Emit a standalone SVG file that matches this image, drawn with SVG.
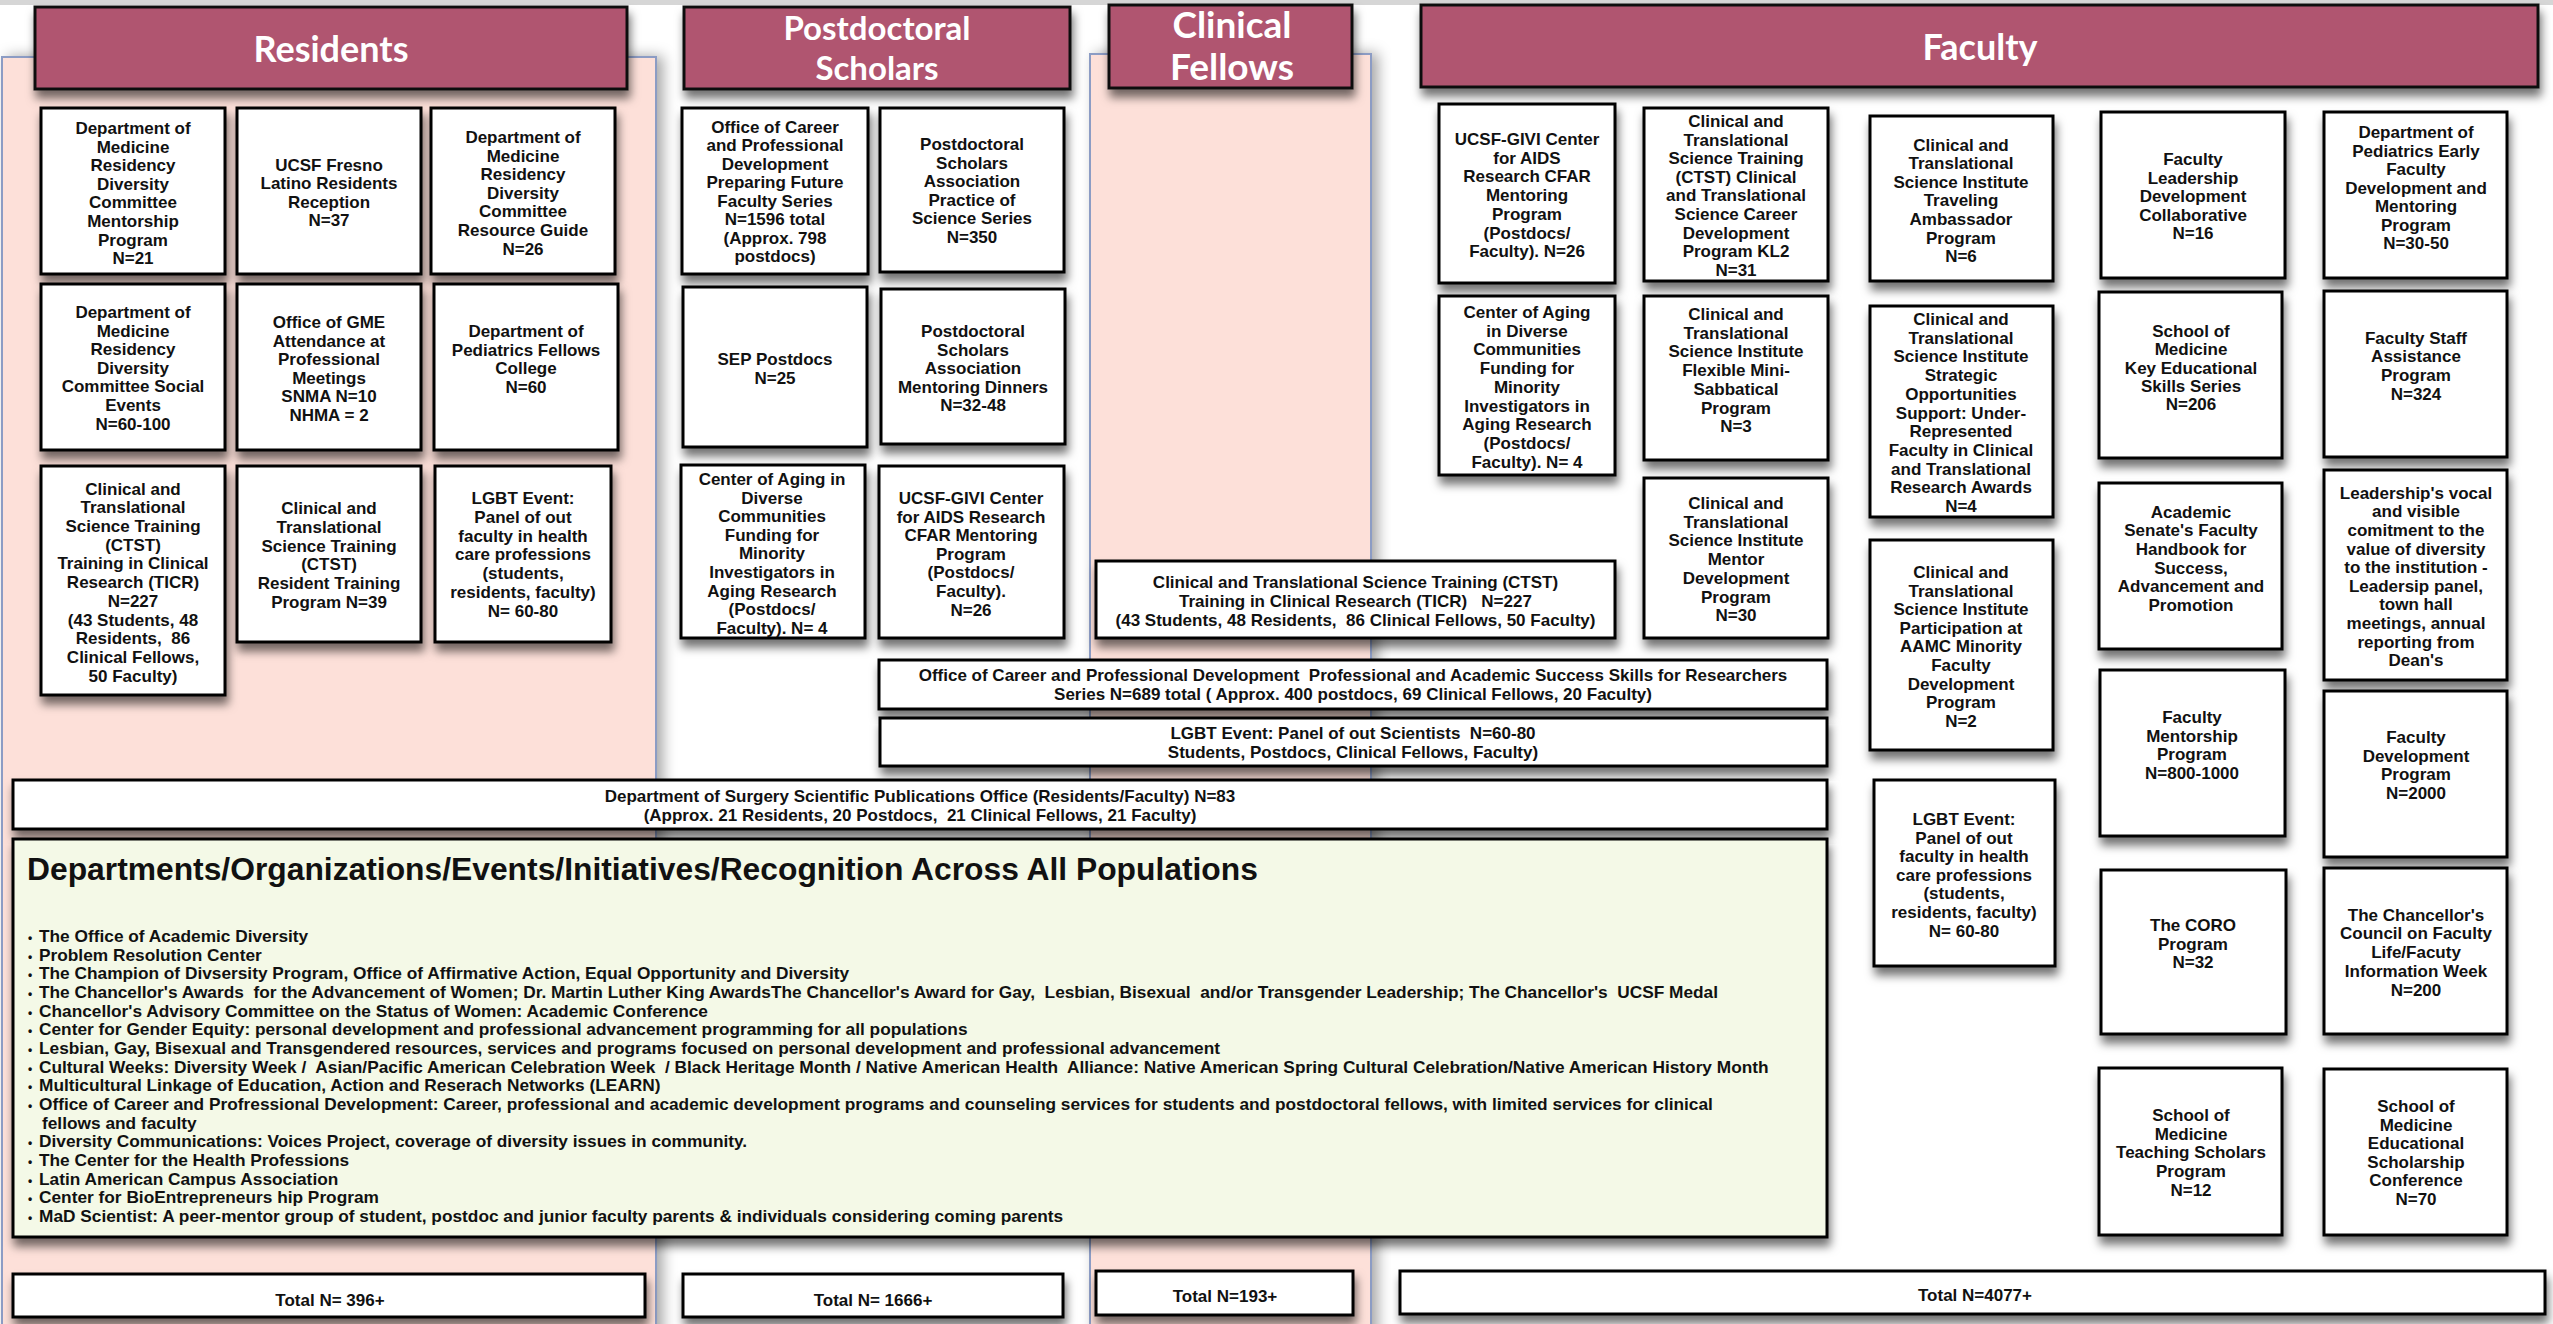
<svg xmlns="http://www.w3.org/2000/svg" width="2553" height="1324" viewBox="0 0 2553 1324">
<defs>
<filter id="sh" x="-10%" y="-10%" width="125%" height="140%">
<feDropShadow dx="2" dy="8" stdDeviation="5" flood-color="#000" flood-opacity="0.55"/>
</filter>
<filter id="psh" x="-5%" y="-5%" width="112%" height="110%">
<feDropShadow dx="6" dy="0" stdDeviation="7" flood-color="#000" flood-opacity="0.35"/>
</filter>
<style>
.panel{fill:#fde0d9;stroke:#8c9cc4;stroke-width:2;filter:url(#psh)}
.hdr{fill:#b0556f;stroke:#111;stroke-width:3;filter:url(#sh)}
.ht{font-family:Lato,"Open Sans","Liberation Sans",sans-serif;font-weight:bold;fill:#fff;text-anchor:middle}
.box{fill:#fff;stroke:#000;stroke-width:3;filter:url(#sh)}
.green{fill:#f4f9e7;stroke:#000;stroke-width:3;filter:url(#sh)}
.t{font-family:"Liberation Sans",Arial,sans-serif;font-weight:bold;font-size:17px;fill:#111;text-anchor:middle;white-space:pre}
.l{font-family:"Liberation Sans",Arial,sans-serif;font-weight:bold;font-size:17.3px;fill:#111;white-space:pre}
.b{font-size:12px}
.title{font-family:"Liberation Sans",Arial,sans-serif;font-weight:bold;font-size:31.8px;fill:#111}
</style>
</defs>
<rect x="0" y="0" width="2553" height="1324" fill="#fff"/>
<rect x="0" y="0" width="2553" height="5" fill="#d6d6d6"/>

<g id="panels">
<rect class="panel" x="2" y="57" width="654" height="1290"/>
<rect class="panel" x="1090" y="54" width="281" height="1290"/>
</g>

<g id="headers">
<g id="hdr-residents"><rect class="hdr" x="35" y="7" width="592" height="82"/><text class="ht" x="331" y="62" font-size="36">Residents</text></g>
<g id="hdr-postdocs"><rect class="hdr" x="684" y="7" width="386" height="82"/><text class="ht" x="877" y="40" font-size="33">Postdoctoral</text><text class="ht" x="877" y="80" font-size="33">Scholars</text></g>
<g id="hdr-fellows"><rect class="hdr" x="1109" y="5" width="243" height="83"/><text class="ht" x="1232" y="38" font-size="37">Clinical</text><text class="ht" x="1232" y="80" font-size="37">Fellows</text></g>
<g id="hdr-faculty"><rect class="hdr" x="1421" y="5" width="1117" height="82"/><text class="ht" x="1980" y="60" font-size="36">Faculty</text></g>
</g>

<g id="connectors"></g>

<g id="r1"><rect class="box" x="41" y="108" width="184" height="166"/><text class="t" x="133" y="134"><tspan x="133">Department of</tspan><tspan x="133" dy="18.6">Medicine</tspan><tspan x="133" dy="18.6">Residency</tspan><tspan x="133" dy="18.6">Diversity</tspan><tspan x="133" dy="18.6">Committee</tspan><tspan x="133" dy="18.6">Mentorship</tspan><tspan x="133" dy="18.6">Program</tspan><tspan x="133" dy="18.6">N=21</tspan></text></g>
<g id="r2"><rect class="box" x="237" y="108" width="184" height="166"/><text class="t" x="329" y="170.5"><tspan x="329">UCSF Fresno</tspan><tspan x="329" dy="18.6">Latino Residents</tspan><tspan x="329" dy="18.6">Reception</tspan><tspan x="329" dy="18.6">N=37</tspan></text></g>
<g id="r3"><rect class="box" x="431" y="108" width="184" height="166"/><text class="t" x="523" y="143"><tspan x="523">Department of</tspan><tspan x="523" dy="18.6">Medicine</tspan><tspan x="523" dy="18.6">Residency</tspan><tspan x="523" dy="18.6">Diversity</tspan><tspan x="523" dy="18.6">Committee</tspan><tspan x="523" dy="18.6">Resource Guide</tspan><tspan x="523" dy="18.6">N=26</tspan></text></g>
<g id="r4"><rect class="box" x="41" y="284" width="184" height="166"/><text class="t" x="133" y="318"><tspan x="133">Department of</tspan><tspan x="133" dy="18.6">Medicine</tspan><tspan x="133" dy="18.6">Residency</tspan><tspan x="133" dy="18.6">Diversity</tspan><tspan x="133" dy="18.6">Committee Social</tspan><tspan x="133" dy="18.6">Events</tspan><tspan x="133" dy="18.6">N=60-100</tspan></text></g>
<g id="r5"><rect class="box" x="237" y="284" width="184" height="166"/><text class="t" x="329" y="328"><tspan x="329">Office of GME</tspan><tspan x="329" dy="18.6">Attendance at</tspan><tspan x="329" dy="18.6">Professional</tspan><tspan x="329" dy="18.6">Meetings</tspan><tspan x="329" dy="18.6">SNMA N=10</tspan><tspan x="329" dy="18.6">NHMA = 2</tspan></text></g>
<g id="r6"><rect class="box" x="434" y="284" width="184" height="166"/><text class="t" x="526" y="337"><tspan x="526">Department of</tspan><tspan x="526" dy="18.6">Pediatrics Fellows</tspan><tspan x="526" dy="18.6">College</tspan><tspan x="526" dy="18.6">N=60</tspan></text></g>
<g id="r7"><rect class="box" x="41" y="466" width="184" height="229"/><text class="t" x="133" y="494.6"><tspan x="133">Clinical and</tspan><tspan x="133" dy="18.7">Translational</tspan><tspan x="133" dy="18.7">Science Training</tspan><tspan x="133" dy="18.7">(CTST)</tspan><tspan x="133" dy="18.7">Training in Clinical</tspan><tspan x="133" dy="18.7">Research (TICR)</tspan><tspan x="133" dy="18.7">N=227</tspan><tspan x="133" dy="18.7">(43 Students, 48</tspan><tspan x="133" dy="18.7">Residents,  86</tspan><tspan x="133" dy="18.7">Clinical Fellows,</tspan><tspan x="133" dy="18.7">50 Faculty)</tspan></text></g>
<g id="r8"><rect class="box" x="237" y="466" width="184" height="176"/><text class="t" x="329" y="514"><tspan x="329">Clinical and</tspan><tspan x="329" dy="18.8">Translational</tspan><tspan x="329" dy="18.8">Science Training</tspan><tspan x="329" dy="18.8">(CTST)</tspan><tspan x="329" dy="18.8">Resident Training</tspan><tspan x="329" dy="18.8">Program N=39</tspan></text></g>
<g id="r9"><rect class="box" x="435" y="466" width="176" height="176"/><text class="t" x="523" y="504"><tspan x="523">LGBT Event:</tspan><tspan x="523" dy="18.8">Panel of out</tspan><tspan x="523" dy="18.8">faculty in health</tspan><tspan x="523" dy="18.8">care professions</tspan><tspan x="523" dy="18.8">(students,</tspan><tspan x="523" dy="18.8">residents, faculty)</tspan><tspan x="523" dy="18.8">N= 60-80</tspan></text></g>

<g id="p1"><rect class="box" x="682" y="108" width="186" height="166"/><text class="t" x="775" y="132.6"><tspan x="775">Office of Career</tspan><tspan x="775" dy="18.5">and Professional</tspan><tspan x="775" dy="18.5">Development</tspan><tspan x="775" dy="18.5">Preparing Future</tspan><tspan x="775" dy="18.5">Faculty Series</tspan><tspan x="775" dy="18.5">N=1596 total</tspan><tspan x="775" dy="18.5">(Approx. 798</tspan><tspan x="775" dy="18.5">postdocs)</tspan></text></g>
<g id="p2"><rect class="box" x="880" y="108" width="184" height="164"/><text class="t" x="972" y="150"><tspan x="972">Postdoctoral</tspan><tspan x="972" dy="18.6">Scholars</tspan><tspan x="972" dy="18.6">Association</tspan><tspan x="972" dy="18.6">Practice of</tspan><tspan x="972" dy="18.6">Science Series</tspan><tspan x="972" dy="18.6">N=350</tspan></text></g>
<g id="p3"><rect class="box" x="683" y="287" width="184" height="160"/><text class="t" x="775" y="365"><tspan x="775">SEP Postdocs</tspan><tspan x="775" dy="18.6">N=25</tspan></text></g>
<g id="p4"><rect class="box" x="881" y="289" width="184" height="155"/><text class="t" x="973" y="337"><tspan x="973">Postdoctoral</tspan><tspan x="973" dy="18.6">Scholars</tspan><tspan x="973" dy="18.6">Association</tspan><tspan x="973" dy="18.6">Mentoring Dinners</tspan><tspan x="973" dy="18.6">N=32-48</tspan></text></g>
<g id="p5"><rect class="box" x="681" y="465" width="184" height="173"/><text class="t" x="772" y="485"><tspan x="772">Center of Aging in</tspan><tspan x="772" dy="18.6">Diverse</tspan><tspan x="772" dy="18.6">Communities</tspan><tspan x="772" dy="18.6">Funding for</tspan><tspan x="772" dy="18.6">Minority</tspan><tspan x="772" dy="18.6">Investigators in</tspan><tspan x="772" dy="18.6">Aging Research</tspan><tspan x="772" dy="18.6">(Postdocs/</tspan><tspan x="772" dy="18.6">Faculty). N= 4</tspan></text></g>
<g id="p6"><rect class="box" x="879" y="466" width="185" height="172"/><text class="t" x="971" y="504"><tspan x="971">UCSF-GIVI Center</tspan><tspan x="971" dy="18.6">for AIDS Research</tspan><tspan x="971" dy="18.6">CFAR Mentoring</tspan><tspan x="971" dy="18.6">Program</tspan><tspan x="971" dy="18.6">(Postdocs/</tspan><tspan x="971" dy="18.6">Faculty).</tspan><tspan x="971" dy="18.6">N=26</tspan></text></g>

<g id="c1"><rect class="box" x="1096" y="561" width="519" height="77"/><text class="t" x="1355.5" y="588"><tspan x="1355.5">Clinical and Translational Science Training (CTST)</tspan><tspan x="1355.5" dy="19">Training in Clinical Research (TICR)   N=227</tspan><tspan x="1355.5" dy="19">(43 Students, 48 Residents,  86 Clinical Fellows, 50 Faculty)</tspan></text></g>

<g id="fA1"><rect class="box" x="1439" y="104" width="176" height="179"/><text class="t" x="1527" y="145"><tspan x="1527">UCSF-GIVI Center</tspan><tspan x="1527" dy="18.7">for AIDS</tspan><tspan x="1527" dy="18.7">Research CFAR</tspan><tspan x="1527" dy="18.7">Mentoring</tspan><tspan x="1527" dy="18.7">Program</tspan><tspan x="1527" dy="18.7">(Postdocs/</tspan><tspan x="1527" dy="18.7">Faculty). N=26</tspan></text></g>
<g id="fA2"><rect class="box" x="1439" y="296" width="176" height="179"/><text class="t" x="1527" y="318"><tspan x="1527">Center of Aging</tspan><tspan x="1527" dy="18.7">in Diverse</tspan><tspan x="1527" dy="18.7">Communities</tspan><tspan x="1527" dy="18.7">Funding for</tspan><tspan x="1527" dy="18.7">Minority</tspan><tspan x="1527" dy="18.7">Investigators in</tspan><tspan x="1527" dy="18.7">Aging Research</tspan><tspan x="1527" dy="18.7">(Postdocs/</tspan><tspan x="1527" dy="18.7">Faculty). N= 4</tspan></text></g>
<g id="fB1"><rect class="box" x="1644" y="108" width="184" height="173"/><text class="t" x="1736" y="127"><tspan x="1736">Clinical and</tspan><tspan x="1736" dy="18.6">Translational</tspan><tspan x="1736" dy="18.6">Science Training</tspan><tspan x="1736" dy="18.6">(CTST) Clinical</tspan><tspan x="1736" dy="18.6">and Translational</tspan><tspan x="1736" dy="18.6">Science Career</tspan><tspan x="1736" dy="18.6">Development</tspan><tspan x="1736" dy="18.6">Program KL2</tspan><tspan x="1736" dy="18.6">N=31</tspan></text></g>
<g id="fB2"><rect class="box" x="1644" y="296" width="184" height="164"/><text class="t" x="1736" y="320"><tspan x="1736">Clinical and</tspan><tspan x="1736" dy="18.7">Translational</tspan><tspan x="1736" dy="18.7">Science Institute</tspan><tspan x="1736" dy="18.7">Flexible Mini-</tspan><tspan x="1736" dy="18.7">Sabbatical</tspan><tspan x="1736" dy="18.7">Program</tspan><tspan x="1736" dy="18.7">N=3</tspan></text></g>
<g id="fB3"><rect class="box" x="1644" y="478" width="184" height="160"/><text class="t" x="1736" y="509"><tspan x="1736">Clinical and</tspan><tspan x="1736" dy="18.7">Translational</tspan><tspan x="1736" dy="18.7">Science Institute</tspan><tspan x="1736" dy="18.7">Mentor</tspan><tspan x="1736" dy="18.7">Development</tspan><tspan x="1736" dy="18.7">Program</tspan><tspan x="1736" dy="18.7">N=30</tspan></text></g>
<g id="fC1"><rect class="box" x="1870" y="116" width="183" height="165"/><text class="t" x="1961" y="150.6"><tspan x="1961">Clinical and</tspan><tspan x="1961" dy="18.6">Translational</tspan><tspan x="1961" dy="18.6">Science Institute</tspan><tspan x="1961" dy="18.6">Traveling</tspan><tspan x="1961" dy="18.6">Ambassador</tspan><tspan x="1961" dy="18.6">Program</tspan><tspan x="1961" dy="18.6">N=6</tspan></text></g>
<g id="fC2"><rect class="box" x="1870" y="306" width="183" height="211"/><text class="t" x="1961" y="325"><tspan x="1961">Clinical and</tspan><tspan x="1961" dy="18.7">Translational</tspan><tspan x="1961" dy="18.7">Science Institute</tspan><tspan x="1961" dy="18.7">Strategic</tspan><tspan x="1961" dy="18.7">Opportunities</tspan><tspan x="1961" dy="18.7">Support: Under-</tspan><tspan x="1961" dy="18.7">Represented</tspan><tspan x="1961" dy="18.7">Faculty in Clinical</tspan><tspan x="1961" dy="18.7">and Translational</tspan><tspan x="1961" dy="18.7">Research Awards</tspan><tspan x="1961" dy="18.7">N=4</tspan></text></g>
<g id="fC3"><rect class="box" x="1870" y="540" width="183" height="210"/><text class="t" x="1961" y="578"><tspan x="1961">Clinical and</tspan><tspan x="1961" dy="18.6">Translational</tspan><tspan x="1961" dy="18.6">Science Institute</tspan><tspan x="1961" dy="18.6">Participation at</tspan><tspan x="1961" dy="18.6">AAMC Minority</tspan><tspan x="1961" dy="18.6">Faculty</tspan><tspan x="1961" dy="18.6">Development</tspan><tspan x="1961" dy="18.6">Program</tspan><tspan x="1961" dy="18.6">N=2</tspan></text></g>
<g id="fC4"><rect class="box" x="1874" y="780" width="181" height="186"/><text class="t" x="1964" y="825"><tspan x="1964">LGBT Event:</tspan><tspan x="1964" dy="18.6">Panel of out</tspan><tspan x="1964" dy="18.6">faculty in health</tspan><tspan x="1964" dy="18.6">care professions</tspan><tspan x="1964" dy="18.6">(students,</tspan><tspan x="1964" dy="18.6">residents, faculty)</tspan><tspan x="1964" dy="18.6">N= 60-80</tspan></text></g>
<g id="fD1"><rect class="box" x="2101" y="112" width="184" height="166"/><text class="t" x="2193" y="165"><tspan x="2193">Faculty</tspan><tspan x="2193" dy="18.5">Leadership</tspan><tspan x="2193" dy="18.5">Development</tspan><tspan x="2193" dy="18.5">Collaborative</tspan><tspan x="2193" dy="18.5">N=16</tspan></text></g>
<g id="fD2"><rect class="box" x="2099" y="292" width="183" height="166"/><text class="t" x="2191" y="337"><tspan x="2191">School of</tspan><tspan x="2191" dy="18.3">Medicine</tspan><tspan x="2191" dy="18.3">Key Educational</tspan><tspan x="2191" dy="18.3">Skills Series</tspan><tspan x="2191" dy="18.3">N=206</tspan></text></g>
<g id="fD3"><rect class="box" x="2099" y="483" width="183" height="166"/><text class="t" x="2191" y="517.5"><tspan x="2191">Academic</tspan><tspan x="2191" dy="18.7">Senate's Faculty</tspan><tspan x="2191" dy="18.7">Handbook for</tspan><tspan x="2191" dy="18.7">Success,</tspan><tspan x="2191" dy="18.7">Advancement and</tspan><tspan x="2191" dy="18.7">Promotion</tspan></text></g>
<g id="fD4"><rect class="box" x="2100" y="670" width="185" height="166"/><text class="t" x="2192" y="723"><tspan x="2192">Faculty</tspan><tspan x="2192" dy="18.7">Mentorship</tspan><tspan x="2192" dy="18.7">Program</tspan><tspan x="2192" dy="18.7">N=800-1000</tspan></text></g>
<g id="fD5"><rect class="box" x="2101" y="870" width="185" height="164"/><text class="t" x="2193" y="931"><tspan x="2193">The CORO</tspan><tspan x="2193" dy="18.5">Program</tspan><tspan x="2193" dy="18.5">N=32</tspan></text></g>
<g id="fD6"><rect class="box" x="2099" y="1068" width="183" height="167"/><text class="t" x="2191" y="1120.7"><tspan x="2191">School of</tspan><tspan x="2191" dy="18.8">Medicine</tspan><tspan x="2191" dy="18.8">Teaching Scholars</tspan><tspan x="2191" dy="18.8">Program</tspan><tspan x="2191" dy="18.8">N=12</tspan></text></g>
<g id="fE1"><rect class="box" x="2324" y="112" width="183" height="166"/><text class="t" x="2416" y="138"><tspan x="2416">Department of</tspan><tspan x="2416" dy="18.5">Pediatrics Early</tspan><tspan x="2416" dy="18.5">Faculty</tspan><tspan x="2416" dy="18.5">Development and</tspan><tspan x="2416" dy="18.5">Mentoring</tspan><tspan x="2416" dy="18.5">Program</tspan><tspan x="2416" dy="18.5">N=30-50</tspan></text></g>
<g id="fE2"><rect class="box" x="2324" y="291" width="183" height="166"/><text class="t" x="2416" y="343.5"><tspan x="2416">Faculty Staff</tspan><tspan x="2416" dy="18.7">Assistance</tspan><tspan x="2416" dy="18.7">Program</tspan><tspan x="2416" dy="18.7">N=324</tspan></text></g>
<g id="fE3"><rect class="box" x="2324" y="470" width="183" height="210"/><text class="t" x="2416" y="498.7"><tspan x="2416">Leadership's vocal</tspan><tspan x="2416" dy="18.6">and visible</tspan><tspan x="2416" dy="18.6">comitment to the</tspan><tspan x="2416" dy="18.6">value of diversity</tspan><tspan x="2416" dy="18.6">to the institution -</tspan><tspan x="2416" dy="18.6">Leadersip panel,</tspan><tspan x="2416" dy="18.6">town hall</tspan><tspan x="2416" dy="18.6">meetings, annual</tspan><tspan x="2416" dy="18.6">reporting from</tspan><tspan x="2416" dy="18.6">Dean's</tspan></text></g>
<g id="fE4"><rect class="box" x="2324" y="691" width="183" height="166"/><text class="t" x="2416" y="743"><tspan x="2416">Faculty</tspan><tspan x="2416" dy="18.7">Development</tspan><tspan x="2416" dy="18.7">Program</tspan><tspan x="2416" dy="18.7">N=2000</tspan></text></g>
<g id="fE5"><rect class="box" x="2324" y="868" width="183" height="166"/><text class="t" x="2416" y="920.5"><tspan x="2416">The Chancellor's</tspan><tspan x="2416" dy="18.75">Council on Faculty</tspan><tspan x="2416" dy="18.75">Life/Facuty</tspan><tspan x="2416" dy="18.75">Information Week</tspan><tspan x="2416" dy="18.75">N=200</tspan></text></g>
<g id="fE6"><rect class="box" x="2324" y="1069" width="183" height="166"/><text class="t" x="2416" y="1112"><tspan x="2416">School of</tspan><tspan x="2416" dy="18.6">Medicine</tspan><tspan x="2416" dy="18.6">Educational</tspan><tspan x="2416" dy="18.6">Scholarship</tspan><tspan x="2416" dy="18.6">Conference</tspan><tspan x="2416" dy="18.6">N=70</tspan></text></g>

<g id="w1"><rect class="box" x="879" y="660" width="948" height="49"/><text class="t" x="1353" y="681"><tspan x="1353">Office of Career and Professional Development  Professional and Academic Success Skills for Researchers</tspan><tspan x="1353" dy="19">Series N=689 total ( Approx. 400 postdocs, 69 Clinical Fellows, 20 Faculty)</tspan></text></g>
<g id="w2"><rect class="box" x="880" y="718" width="947" height="48"/><text class="t" x="1353" y="739"><tspan x="1353">LGBT Event: Panel of out Scientists  N=60-80</tspan><tspan x="1353" dy="19">Students, Postdocs, Clinical Fellows, Faculty)</tspan></text></g>
<g id="w3"><rect class="box" x="13" y="780" width="1814" height="49"/><text class="t" x="920" y="802"><tspan x="920">Department of Surgery Scientific Publications Office (Residents/Faculty) N=83</tspan><tspan x="920" dy="19">(Approx. 21 Residents, 20 Postdocs,  21 Clinical Fellows, 21 Faculty)</tspan></text></g>

<g id="all-populations">
<rect class="green" x="13" y="839" width="1814" height="398"/>
<text class="title" x="27" y="880">Departments/Organizations/Events/Initiatives/Recognition Across All Populations</text>
<text class="l" y="942"><tspan class="b" x="28">•</tspan><tspan x="39">The Office of Academic Diversity</tspan></text>
<text class="l" y="960.67"><tspan class="b" x="28">•</tspan><tspan x="39">Problem Resolution Center</tspan></text>
<text class="l" y="979.34"><tspan class="b" x="28">•</tspan><tspan x="39">The Champion of Divsersity Program, Office of Affirmative Action, Equal Opportunity and Diversity</tspan></text>
<text class="l" y="998"><tspan class="b" x="28">•</tspan><tspan x="39">The Chancellor's Awards  for the Advancement of Women; Dr. Martin Luther King AwardsThe Chancellor's Award for Gay,  Lesbian, Bisexual  and/or Transgender Leadership; The Chancellor's  UCSF Medal</tspan></text>
<text class="l" y="1016.7"><tspan class="b" x="28">•</tspan><tspan x="39">Chancellor's Advisory Committee on the Status of Women: Academic Conference</tspan></text>
<text class="l" y="1035.35"><tspan class="b" x="28">•</tspan><tspan x="39">Center for Gender Equity: personal development and professional advancement programming for all populations</tspan></text>
<text class="l" y="1054"><tspan class="b" x="28">•</tspan><tspan x="39">Lesbian, Gay, Bisexual and Transgendered resources, services and programs focused on personal development and professional advancement</tspan></text>
<text class="l" y="1072.7"><tspan class="b" x="28">•</tspan><tspan x="39">Cultural Weeks: Diversity Week /  Asian/Pacific American Celebration Week  / Black Heritage Month / Native American Health  Alliance: Native American Spring Cultural Celebration/Native American History Month</tspan></text>
<text class="l" y="1091.36"><tspan class="b" x="28">•</tspan><tspan x="39">Multicultural Linkage of Education, Action and Reserach Networks (LEARN)</tspan></text>
<text class="l" y="1110"><tspan class="b" x="28">•</tspan><tspan x="39">Office of Career and Profressional Development: Career, professional and academic development programs and counseling services for students and postdoctoral fellows, with limited services for clinical</tspan></text>
<text class="l" x="42" y="1128.7">fellows and faculty</text>
<text class="l" y="1147.4"><tspan class="b" x="28">•</tspan><tspan x="39">Diversity Communications: Voices Project, coverage of diversity issues in community.</tspan></text>
<text class="l" y="1166"><tspan class="b" x="28">•</tspan><tspan x="39">The Center for the Health Professions</tspan></text>
<text class="l" y="1184.7"><tspan class="b" x="28">•</tspan><tspan x="39">Latin American Campus Association</tspan></text>
<text class="l" y="1203.4"><tspan class="b" x="28">•</tspan><tspan x="39">Center for BioEntrepreneurs hip Program</tspan></text>
<text class="l" y="1222"><tspan class="b" x="28">•</tspan><tspan x="39">MaD Scientist: A peer-mentor group of student, postdoc and junior faculty parents &amp; individuals considering coming parents</tspan></text>
</g>

<g id="totals">
<g id="total-residents"><rect class="box" x="13" y="1274" width="632" height="43"/><text class="t" x="330" y="1306">Total N= 396+</text></g>
<g id="total-postdocs"><rect class="box" x="683" y="1274" width="380" height="43"/><text class="t" x="873" y="1306">Total N= 1666+</text></g>
<g id="total-fellows"><rect class="box" x="1096" y="1271" width="257" height="44"/><text class="t" x="1225" y="1302">Total N=193+</text></g>
<g id="total-faculty"><rect class="box" x="1400" y="1271" width="1145" height="43"/><text class="t" x="1975" y="1301">Total N=4077+</text></g>
</g>
</svg>
